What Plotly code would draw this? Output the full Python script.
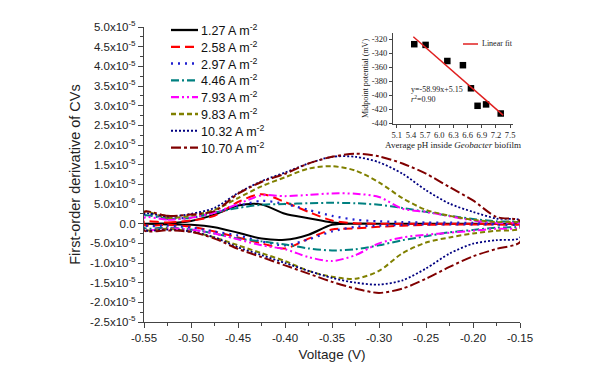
import plotly.graph_objects as go

# ---------------- data ----------------
voltage = [-0.55, -0.525, -0.50, -0.475, -0.45, -0.425, -0.40, -0.375, -0.35,
           -0.325, -0.30, -0.275, -0.25, -0.225, -0.20, -0.175, -0.15]

series_names = ["1.27 A m<sup>-2</sup>", "2.58 A m<sup>-2</sup>", "2.97 A m<sup>-2</sup>",
                "4.46 A m<sup>-2</sup>", "7.93 A m<sup>-2</sup>", "9.83 A m<sup>-2</sup>",
                "10.32 A m<sup>-2</sup>", "10.70 A m<sup>-2</sup>"]

# values in units of 1e-6 (upper = forward branch, lower = reverse branch)
upper_127 = [0.0, 0.1, 0.7, 2.3, 4.6, 4.9, 2.5, 1.4, 0.3, 0.0, 0.0, 0.0, 0.0, 0.0, 0.0, 0.0, 0.0]
lower_127 = [0.0, -0.2, -0.3, -0.9, -2.3, -3.8, -4.1, -2.8, -0.3, 0.0, 0.0, 0.0, 0.0, 0.0, 0.0, 0.0, 0.0]
upper_258 = [0.5, 0.3, 0.8, 2.0, 5.5, 7.5, 5.5, 3.0, 0.8, 0.1, 0.0, 0.0, 0.0, 0.0, 0.0, 0.0, 0.0]
lower_258 = [-0.3, -0.3, -0.8, -2.0, -3.5, -5.0, -6.3, -3.8, -1.5, -1.2, -0.8, -0.5, -0.3, -0.2, -0.2, -0.2, -0.2]
upper_297 = [2.2, 1.5, 1.5, 2.8, 4.5, 5.8, 5.0, 3.5, 2.0, 1.0, 0.6, 0.4, 0.3, 0.3, 0.2, 0.2, 0.2]
lower_297 = [-0.3, -0.5, -1.0, -2.0, -3.0, -4.5, -5.5, -4.0, -2.0, -0.8, -0.5, -0.3, -0.2, -0.2, -0.2, -0.2, -0.2]
upper_446 = [2.0, 1.2, 1.5, 2.8, 4.0, 4.8, 5.0, 5.2, 5.3, 5.2, 4.8, 4.0, 3.0, 2.0, 1.2, 0.6, 0.3]
lower_446 = [-1.0, -1.0, -1.5, -2.5, -3.8, -4.5, -5.3, -6.3, -6.8, -6.5, -5.5, -4.2, -3.2, -2.2, -1.6, -1.0, -0.6]
upper_793 = [1.5, 1.0, 1.5, 2.8, 5.0, 7.2, 7.0, 7.3, 7.7, 7.6, 6.8, 3.8, 3.0, 1.9, 0.8, 0.2, 0.0]
lower_793 = [-1.5, -1.2, -1.5, -2.5, -4.0, -5.5, -6.5, -8.5, -9.5, -8.0, -5.0, -3.5, -2.8, -2.3, -1.8, -1.3, -1.0]
upper_983 = [3.0, 1.5, 2.0, 3.5, 6.5, 9.5, 11.8, 14.0, 14.6, 13.5, 10.5, 6.5, 3.5, 2.0, 1.0, 0.4, 0.2]
lower_983 = [-1.5, -1.3, -2.0, -3.5, -5.5, -7.5, -9.5, -12.0, -13.5, -14.0, -12.0, -7.5, -4.8, -3.5, -2.5, -1.8, -1.3]
upper_1032 = [2.5, 1.8, 2.5, 4.0, 7.8, 10.8, 13.0, 15.3, 17.0, 17.0, 15.6, 12.7, 8.5, 5.1, 3.0, 1.3, 0.8]
lower_1032 = [-1.5, -1.5, -2.0, -3.5, -6.0, -8.0, -10.0, -12.0, -13.8, -15.0, -15.5, -14.4, -11.4, -7.6, -5.1, -4.2, -3.6]
upper_1070 = [3.0, 2.0, 2.3, 3.2, 7.6, 10.6, 12.7, 15.3, 17.0, 17.8, 17.1, 15.3, 12.7, 9.3, 5.9, 1.7, 0.7]
lower_1070 = [-1.7, -1.7, -2.1, -3.8, -6.4, -8.5, -10.6, -12.7, -14.8, -16.5, -17.6, -16.5, -14.0, -11.0, -8.3, -6.4, -4.7]

y_tickvals = [50, 45, 40, 35, 30, 25, 20, 15, 10, 5, 0, -5, -10, -15, -20, -25]
y_ticktext = ["5.0x10<sup>-5</sup>", "4.5x10<sup>-5</sup>", "4.0x10<sup>-5</sup>", "3.5x10<sup>-5</sup>",
              "3.0x10<sup>-5</sup>", "2.5x10<sup>-5</sup>", "2.0x10<sup>-5</sup>", "1.5x10<sup>-5</sup>",
              "1.0x10<sup>-5</sup>", "5.0x10<sup>-6</sup>", "0.0", "-5.0x10<sup>-6</sup>",
              "-1.0x10<sup>-5</sup>", "-1.5x10<sup>-5</sup>", "-2.0x10<sup>-5</sup>", "-2.5x10<sup>-5</sup>"]
x_tickvals = [-0.55, -0.50, -0.45, -0.40, -0.35, -0.30, -0.25, -0.20, -0.15]
x_ticktext = ["-0.55", "-0.50", "-0.45", "-0.40", "-0.35", "-0.30", "-0.25", "-0.20", "-0.15"]

# inset data
inset_ph = [5.47, 5.71, 6.17, 6.50, 6.67, 6.81, 6.99, 7.30]
inset_mid = [-327, -328, -351, -357, -390, -415, -413, -426]
fit_ph = [5.45, 7.35]
fit_mid = [-316.3, -428.4]
inset_xticks = [5.1, 5.4, 5.7, 6.0, 6.3, 6.6, 6.9, 7.2, 7.5]
inset_xticktext = ["5.1", "5.4", "5.7", "6.0", "6.3", "6.6", "6.9", "7.2", "7.5"]
inset_yticks = [-320, -340, -360, -380, -400, -420, -440]
inset_yticktext = ["-320", "-340", "-360", "-380", "-400", "-420", "-440"]

# ---------------- styles ----------------
colors = ["#000000", "#ff0000", "#1f1fd0", "#008080", "#ff00ff", "#808000", "#000080", "#800000"]
dashes = ["solid", "9px,5px", "2px,5px", "8px,3px,2px,3px", "8px,3px,2px,3px,2px,3px",
          "5px,3px", "2px,2px", "10px,3px,3px,3px"]
widths = [2, 2, 2.2, 2, 2, 2, 1.8, 2]

uppers = [upper_127, upper_258, upper_297, upper_446, upper_793, upper_983, upper_1032, upper_1070]
lowers = [lower_127, lower_258, lower_297, lower_446, lower_793, lower_983, lower_1032, lower_1070]

fig = go.Figure()
for name, up, lo, c, d, w in zip(series_names, uppers, lowers, colors, dashes, widths):
    xs = voltage + voltage[::-1] + [voltage[0]]
    ys = up + lo[::-1] + [up[0]]
    fig.add_trace(go.Scatter(x=xs, y=ys, mode="lines", name=name, showlegend=False,
                             line=dict(color=c, dash=d, width=w, shape="spline", smoothing=0.8)))

fig.add_trace(go.Scatter(x=inset_ph, y=inset_mid, mode="markers", showlegend=False,
                         marker=dict(symbol="square", size=6.5, color="#000000"),
                         xaxis="x2", yaxis="y2"))
fig.add_trace(go.Scatter(x=fit_ph, y=fit_mid, mode="lines", name="Linear fit", showlegend=False,
                         line=dict(color="#e02020", width=1.5),
                         xaxis="x2", yaxis="y2"))

# ---------------- geometry (page has an 8px body margin) ----------------
OFF = 8
W, H = 591 - OFF, 371 - OFF
L, R, T, B = 144 - OFF, 71, 27 - OFF, 49
pw, ph = W - L - R, H - T - B


def px2paper_x(px):
    return (px - OFF - L) / pw


def px2paper_y(py):
    return (H - B - (py - OFF)) / ph


shapes = []
annotations = []
leg_top = 30.0
leg_step = 16.8
for i, (name, c, d, w) in enumerate(zip(series_names, colors, dashes, widths)):
    yy = px2paper_y(leg_top + i * leg_step)
    shapes.append(dict(type="line", xref="paper", yref="paper",
                       x0=px2paper_x(171), x1=px2paper_x(198), y0=yy, y1=yy,
                       line=dict(color=c, dash=d, width=w + 0.3)))
    annotations.append(dict(text=name, x=px2paper_x(199), y=yy, xref="paper", yref="paper",
                            xanchor="left", yanchor="middle", showarrow=False,
                            font=dict(size=12.5, color="#111111")))

# inset legend and fit text
yy = px2paper_y(44)
shapes.append(dict(type="line", xref="paper", yref="paper",
                   x0=px2paper_x(463), x1=px2paper_x(478), y0=yy, y1=yy,
                   line=dict(color="#e02020", width=1.5)))
annotations.append(dict(text="Linear fit", x=px2paper_x(480), y=yy, xref="paper", yref="paper",
                        xanchor="left", yanchor="middle", showarrow=False,
                        font=dict(family="Liberation Serif", size=8, color="#222222")))
annotations.append(dict(text="y=-58.99x+5.15", x=px2paper_x(409), y=px2paper_y(90),
                        xref="paper", yref="paper", showarrow=False, xanchor="left",
                        yanchor="middle", font=dict(family="Liberation Serif", size=8)))
annotations.append(dict(text="<i>r</i><sup>2</sup>=0.90", x=px2paper_x(409), y=px2paper_y(99),
                        xref="paper", yref="paper", showarrow=False, xanchor="left",
                        yanchor="middle", font=dict(family="Liberation Serif", size=8)))

axis_common = dict(showline=True, linecolor="#444444", linewidth=1.2, ticks="outside",
                   tickcolor="#444444", ticklen=5, showgrid=False, zeroline=False, mirror=False,
                   automargin=False)

fig.update_layout(
    width=W, height=H,
    margin=dict(l=L, r=R, t=T, b=B, autoexpand=False),
    paper_bgcolor="white", plot_bgcolor="white",
    showlegend=False,
    font=dict(family="Liberation Sans, Arial", size=11.5, color="#222222"),
    xaxis=dict(range=[-0.55, -0.15], tickvals=x_tickvals, ticktext=x_ticktext,
               minor=dict(dtick=0.025, ticks="outside", ticklen=3, tickcolor="#444444"),
               title=dict(text="Voltage (V)", font=dict(size=13.5), standoff=6), **axis_common),
    yaxis=dict(range=[-25, 50], tickvals=y_tickvals, ticktext=y_ticktext,
               minor=dict(dtick=2.5, ticks="outside", ticklen=3, tickcolor="#444444"),
               title=dict(text="First-order derivative of CVs", font=dict(size=14.5), standoff=6),
               **axis_common),
    xaxis2=dict(domain=[px2paper_x(393), px2paper_x(513)], anchor="y2", range=[5.02, 7.56],
                tickvals=inset_xticks, ticktext=inset_xticktext,
                tickfont=dict(family="Liberation Serif", size=8.5),
                title=dict(text="Average pH inside <i>Geobacter</i> biofilm",
                           font=dict(family="Liberation Serif", size=9), standoff=1),
                showline=True, linecolor="#444444", linewidth=1, ticks="outside", ticklen=3,
                tickcolor="#444444", showgrid=False, zeroline=False, automargin=False),
    yaxis2=dict(domain=[px2paper_y(124), px2paper_y(33)], anchor="x2", range=[-441, -311],
                tickvals=inset_yticks, ticktext=inset_yticktext,
                tickfont=dict(family="Liberation Serif", size=8.5),
                title=dict(text="Midpoint potential (mV)",
                           font=dict(family="Liberation Serif", size=8), standoff=1),
                showline=True, linecolor="#444444", linewidth=1, ticks="outside", ticklen=3,
                tickcolor="#444444", showgrid=False, zeroline=False, automargin=False),
    shapes=shapes,
    annotations=annotations,
)

fig.write_html("out.html")
